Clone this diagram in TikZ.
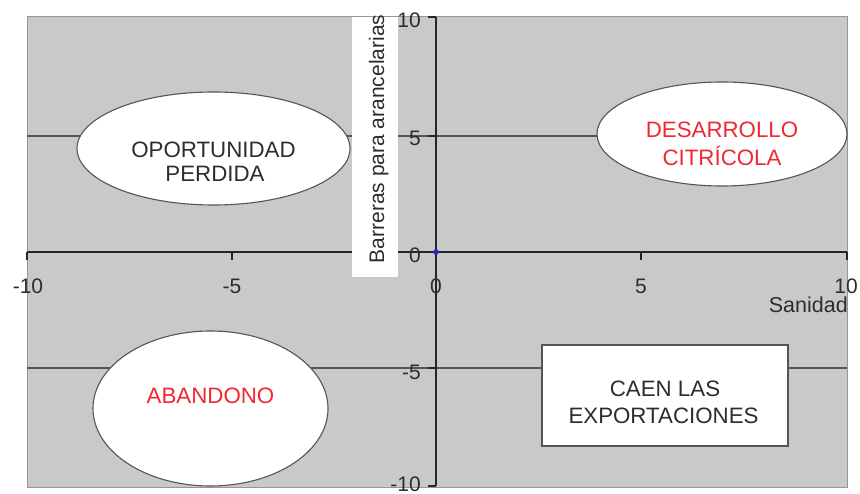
\documentclass[tikz,border=0pt]{standalone}
\usepackage{fontspec}
\setmainfont{Liberation Sans}
\usetikzlibrary{shapes.geometric}
\definecolor{plotbg}{RGB}{200,201,203}
\definecolor{gridc}{RGB}{85,85,85}
\definecolor{framec}{RGB}{150,150,150}
\definecolor{txt}{RGB}{45,45,45}
\definecolor{redt}{RGB}{240,40,50}
\definecolor{dotc}{RGB}{40,40,200}
\begin{document}
\begin{tikzpicture}[x=1pt,y=-1pt,
  gridline/.style={draw=gridc,line width=1.8pt},
  axisline/.style={draw=black!85,line width=1.3pt},
  ell/.style={ellipse,draw=gridc,line width=1.1pt,fill=white,inner sep=0pt},
  boxshape/.style={rectangle,draw=gridc,line width=1.1pt,fill=white,inner sep=0pt},
  lbl/.style={font=\fontsize{22.3pt}{26pt}\selectfont,text=txt,inner sep=0pt,anchor=base},
  redlbl/.style={lbl,text=redt},
  tick/.style={font=\fontsize{21pt}{25pt}\selectfont,text=txt,inner sep=0pt}]
\useasboundingbox (0,0) rectangle (860,494);
\fill[white] (0,0) rectangle (860,494);
% plot area
\filldraw[fill=plotbg,draw=framec,line width=1pt] (27,17) rectangle (847,487);
% grid lines
\coordinate (g5l) at (27,136); \coordinate (g5r) at (847,136);
\coordinate (gm5l) at (27,368); \coordinate (gm5r) at (847,368);
\draw[gridline] (g5l) -- (g5r);
\draw[gridline] (gm5l) -- (gm5r);
% axes
\coordinate (xl) at (27,252); \coordinate (xr) at (847,252);
\coordinate (yt) at (436,17); \coordinate (yb) at (436,486);
\draw[axisline] (xl) -- (xr);
\draw[axisline] (yt) -- (yb);
% ticks
\foreach \x in {27,232,436,641,847} \draw[axisline] (\x,252) -- (\x,260);
\foreach \y in {17,136,252,368,486} \draw[axisline] (428,\y) -- (436,\y);
% shapes
\node[ell,minimum width=273pt,minimum height=113pt] (op) at (213.5,148.5) {};
\node[ell,minimum width=250pt,minimum height=104pt] (de) at (722,134) {};
\node[ell,minimum width=235pt,minimum height=155pt] (ab) at (210.5,408.5) {};
\node[boxshape,minimum width=246pt,minimum height=101pt] (ca) at (665,395.5) {};
% y title box
\fill[white] (352,17) rectangle (398,277);
\node[tick,anchor=base,rotate=90] (ytitle) at (384,139) {Barreras para arancelarias};
% texts
\node[lbl] (op1) at (213.5,158) {OPORTUNIDAD};
\node[lbl] (op2) at (215,182) {PERDIDA};
\node[redlbl] (de1) at (722,138) {DESARROLLO};
\node[redlbl] (de2) at (722,166) {CITRÍCOLA};
\node[redlbl] (ab1) at (210.5,404) {ABANDONO};
\node[lbl] (ca1) at (665,396) {CAEN LAS};
\node[lbl] (ca2) at (663.5,424) {EXPORTACIONES};
% tick labels
\node[tick,anchor=base] (xm10) at (28,294) {-10};
\node[tick,anchor=base] (xm5) at (232,294) {-5};
\node[tick,anchor=base] (x0) at (436,294) {0};
\node[tick,anchor=base] (x5) at (641,294) {5};
\node[tick,anchor=base] (x10) at (846,294) {10};
\node[tick,anchor=base east] (y10) at (421,28) {10};
\node[tick,anchor=base east] (y5) at (421,145.5) {5};
\node[tick,anchor=base east] (y0) at (421,263) {0};
\node[tick,anchor=base east] (ym5) at (421,380) {-5};
\node[tick,anchor=base east] (ym10) at (421,491.5) {-10};
\node[tick,anchor=base east,font=\fontsize{21.5pt}{25pt}\selectfont] (xtitle) at (848,313) {Sanidad};
% origin point
\fill[dotc] (436,252) circle (2.8pt);
\end{tikzpicture}
\end{document}
